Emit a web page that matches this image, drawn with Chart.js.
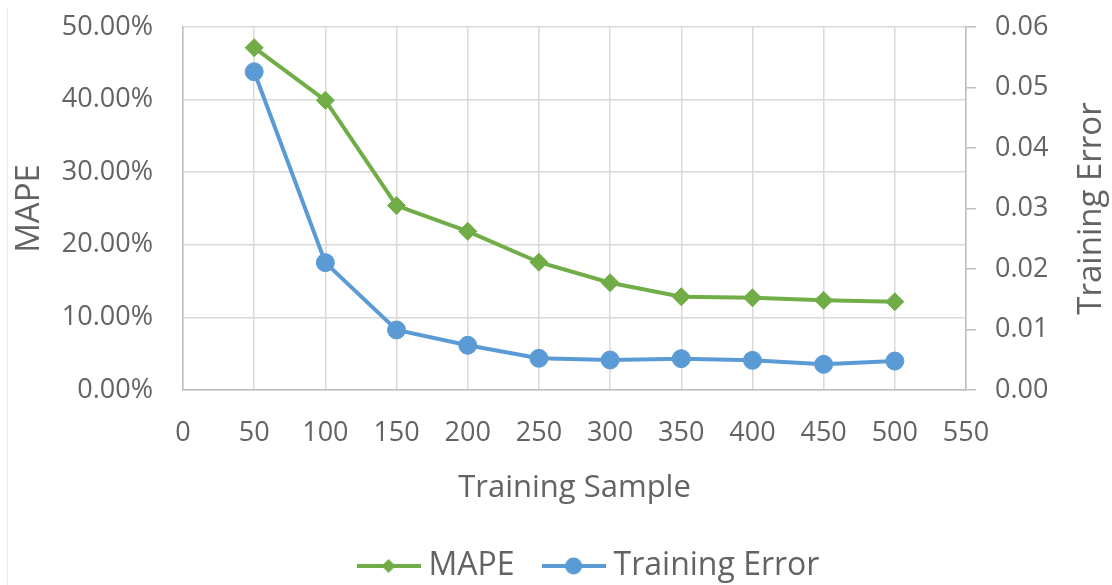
<!DOCTYPE html>
<html>
<head>
<meta charset="utf-8">
<script src="https://cdn.jsdelivr.net/npm/chart.js@4"></script>
<style>
  html, body { margin: 0; padding: 0; background: #fff; }
  #wrap { position: relative; width: 1112px; height: 585px; }
  #edge { position: absolute; left: 7px; top: 8px; width: 1px; height: 577px; background: #ececec; }
</style>
</head>
<body>
<div id="wrap">
  <div id="edge"></div>
  <canvas id="mapeChart"></canvas>
</div>
<script>
// Muestras de entrenamiento (eje X)
const samples = [50, 100, 150, 200, 250, 300, 350, 400, 450, 500];
// MAPE en porcentaje (eje izquierdo)
const mapeValues = [47.15, 39.9, 25.4, 21.86, 17.6, 14.78, 12.85, 12.7, 12.35, 12.16];
// Error de entrenamiento (eje derecho)
const trainErrorValues = [0.0526, 0.02105, 0.00992, 0.00739, 0.00524, 0.00496, 0.00518, 0.0049, 0.00424, 0.00479];

const GREEN = '#70AD47';
const BLUE = '#5B9BD5';
const TEXT = '#636363';
const GRID = '#d9d9d9';
const AXIS = '#bfbfbf';
const FONT = 'Open Sans';

// Icono de leyenda: linea con el marcador en medio
function legendIcon(color, shape) {
  const c = document.createElement('canvas');
  c.width = 64;
  c.height = 22;
  const g = c.getContext('2d');
  g.strokeStyle = color;
  g.fillStyle = color;
  g.lineWidth = 4;
  g.beginPath();
  g.moveTo(0, 11);
  g.lineTo(64, 11);
  g.stroke();
  g.beginPath();
  if (shape === 'diamond') {
    g.moveTo(32, 4); g.lineTo(39, 11); g.lineTo(32, 18); g.lineTo(25, 11);
    g.closePath();
  } else {
    g.arc(32, 11, 8.5, 0, Math.PI * 2);
  }
  g.fill();
  return c;
}

const icons = [legendIcon(GREEN, 'diamond'), legendIcon(BLUE, 'circle')];

// Titulo del eje derecho, leido de abajo hacia arriba
const rightTitle = {
  id: 'rightTitle',
  afterDraw(chart) {
    const { ctx, chartArea } = chart;
    ctx.save();
    ctx.translate(1092, (chartArea.top + chartArea.bottom) / 2);
    ctx.rotate(-Math.PI / 2);
    ctx.fillStyle = TEXT;
    ctx.font = `33px "${FONT}"`;
    ctx.textAlign = 'center';
    ctx.textBaseline = 'middle';
    ctx.fillText('Training Error', 0, 0);
    ctx.restore();
  }
};

// Desplaza la leyenda un poco a la derecha
const legendShift = {
  id: 'legendShift',
  afterLayout(chart) {
    chart.legend.left += 36;
    chart.legend.right += 36;
  }
};

// Ancho fijo del eje vertical sin margen extra arriba/abajo
function fixVertical(width) {
  return scale => {
    scale.width = width;
    scale.paddingTop = 0;
    scale.paddingBottom = 0;
  };
}

new Chart(document.getElementById('mapeChart'), {
  type: 'line',
  data: {
    datasets: [
      {
        label: 'MAPE',
        data: samples.map((s, i) => ({ x: s, y: mapeValues[i] })),
        yAxisID: 'y',
        borderColor: GREEN,
        backgroundColor: GREEN,
        borderWidth: 4,
        pointStyle: 'rectRot',
        pointRadius: 9,
        pointBorderWidth: 1,
        tension: 0
      },
      {
        label: 'Training Error',
        data: samples.map((s, i) => ({ x: s, y: trainErrorValues[i] })),
        yAxisID: 'y1',
        borderColor: BLUE,
        backgroundColor: BLUE,
        borderWidth: 4,
        pointStyle: 'circle',
        pointRadius: 9,
        pointBorderWidth: 1,
        tension: 0
      }
    ]
  },
  plugins: [rightTitle, legendShift],
  options: {
    responsive: true,
    maintainAspectRatio: false,
    animation: false,
    layout: { padding: { top: 27, left: 0, right: 0, bottom: -7 } },
    plugins: {
      tooltip: { enabled: false },
      legend: {
        position: 'bottom',
        labels: {
          usePointStyle: true,
          pointStyleWidth: 48,
          padding: 35,
          color: TEXT,
          font: { family: FONT, size: 32 },
          generateLabels(chart) {
            const items = Chart.defaults.plugins.legend.labels.generateLabels(chart);
            items.forEach((it, i) => { it.pointStyle = icons[i]; });
            return items;
          }
        }
      }
    },
    scales: {
      x: {
        type: 'linear',
        min: 0,
        max: 550,
        ticks: {
          stepSize: 50,
          padding: 27,
          color: TEXT,
          font: { family: FONT, size: 27 }
        },
        grid: { color: GRID, lineWidth: 1.5, drawTicks: false },
        border: { color: AXIS, width: 1.5 },
        title: {
          display: true,
          text: 'Training Sample',
          color: TEXT,
          font: { family: FONT, size: 31 },
          padding: { top: 0, bottom: 8 }
        },
        afterFit(scale) { scale.height = 125; }
      },
      y: {
        position: 'left',
        min: 0,
        max: 50,
        ticks: {
          stepSize: 10,
          padding: 30,
          color: TEXT,
          font: { family: FONT, size: 27 },
          callback: v => v.toFixed(2) + '%'
        },
        grid: { color: GRID, lineWidth: 1.5, drawTicks: false },
        border: { color: AXIS, width: 1.5 },
        title: {
          display: true,
          text: 'MAPE',
          color: TEXT,
          font: { family: FONT, size: 33 },
          padding: { top: 10, bottom: 0 }
        },
        afterFit: fixVertical(183)
      },
      y1: {
        position: 'right',
        min: 0,
        max: 0.06,
        ticks: {
          stepSize: 0.01,
          padding: 19,
          color: TEXT,
          font: { family: FONT, size: 27 },
          callback: v => v.toFixed(2)
        },
        grid: { drawOnChartArea: false, color: AXIS, lineWidth: 1.5, tickLength: 10 },
        border: { color: AXIS, width: 1.5 },
        afterFit: fixVertical(146)
      }
    }
  }
});
</script>
</body>
</html>
